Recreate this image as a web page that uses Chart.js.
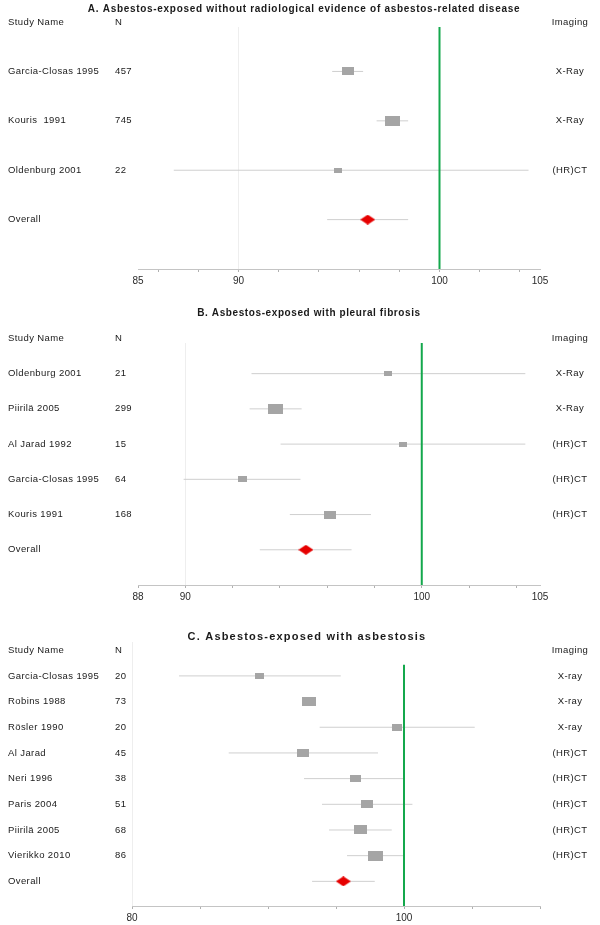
<!DOCTYPE html>
<html>
<head>
<meta charset="utf-8">
<script src="https://cdn.jsdelivr.net/npm/chart.js@4.4.1/dist/chart.umd.min.js"></script>
<style>
body { margin:0; background:#fff; width:600px; height:925px; position:relative; overflow:hidden; }
canvas { position:absolute; left:0; }
</style>
</head>
<body>
<canvas id="pA" width="600" height="300" style="top:0px"></canvas>
<canvas id="pB" width="600" height="320" style="top:300px"></canvas>
<canvas id="pC" width="600" height="298" style="top:629px"></canvas>
<script>
// ---- panel A ----
const studiesA = ['Garcia-Closas 1995', 'Kouris  1991', 'Oldenburg 2001'];
const nA = [457, 745, 22];
const imagingA = ['X-Ray', 'X-Ray', '(HR)CT'];
const meanA = [95.44, 97.65, 94.94];
const lowA = [94.66, 96.87, 86.78];
const highA = [96.20, 98.44, 104.43];
const weightA = [80, 100, 53];
const overallA = [96.43, 94.41, 98.44];   // estimate, low, high
const tickLabelsA = [85, 90, 100, 105];

// ---- panel B ----
const studiesB = ['Oldenburg 2001', 'Piirilä 2005', 'Al Jarad 1992', 'Garcia-Closas 1995', 'Kouris 1991'];
const nB = [21, 299, 15, 64, 168];
const imagingB = ['X-Ray', 'X-Ray', '(HR)CT', '(HR)CT', '(HR)CT'];
const meanB = [98.58, 93.83, 99.21, 92.40, 96.13];
const lowB = [92.80, 92.72, 94.03, 89.93, 94.42];
const highB = [104.38, 94.92, 104.38, 94.87, 97.85];
const weightB = [53, 100, 53, 60, 80];
const overallB = [95.10, 93.15, 97.03];
const tickLabelsB = [88, 90, 100, 105];

// ---- panel C ----
const studiesC = ['Garcia-Closas 1995', 'Robins 1988', 'Rösler 1990', 'Al Jarad', 'Neri 1996', 'Paris 2004', 'Piirilä 2005', 'Vierikko 2010'];
const nC = [20, 73, 20, 45, 38, 51, 68, 86];
const imagingC = ['X-ray', 'X-ray', 'X-ray', '(HR)CT', '(HR)CT', '(HR)CT', '(HR)CT', '(HR)CT'];
const meanC = [89.39, 92.99, 99.49, 92.57, 96.40, 97.28, 96.79, 97.90];
const lowC = [83.46, 92.50, 93.80, 87.11, 92.65, 93.97, 94.49, 95.81];
const highC = [95.35, 93.50, 105.20, 98.09, 100.05, 100.62, 99.10, 99.99];
const weightC = [60, 93, 67, 80, 73, 80, 87, 100];
const overallC = [95.54, 93.24, 97.85];
const tickLabelsC = [80, 100];

const NULL_VALUE = 100;

Chart.defaults.font.family = '"Liberation Sans", Arial, sans-serif';

function boxImg(w, h, color) {
    const c = document.createElement('canvas');
    c.width = w; c.height = h;
    const g = c.getContext('2d');
    g.fillStyle = color;
    g.fillRect(0, 0, w, h);
    return c;
}

function diamondImg(w, h, color) {
    const c = document.createElement('canvas');
    c.width = w; c.height = h;
    const g = c.getContext('2d');
    g.fillStyle = color;
    g.beginPath();
    g.moveTo(w / 2, 0); g.lineTo(w, h / 2); g.lineTo(w / 2, h); g.lineTo(0, h / 2);
    g.closePath();
    g.fill();
    return c;
}

// title + the three text columns, put on the y scale rows
const forestText = {
    id: 'forestText',
    afterDraw(chart, args, o) {
        const ctx = chart.ctx, ys = chart.scales.y;
        ctx.save();
        ctx.fillStyle = '#1a1a1a';
        ctx.textBaseline = 'middle';
        ctx.font = o.titleFont;
        ctx.letterSpacing = o.titleSpacing;
        ctx.textAlign = 'center';
        ctx.fillText(o.title, o.titleX, o.titleY);
        ctx.font = '9.5px "Liberation Sans"';
        ctx.letterSpacing = '0.4px';
        const row = (cells, r) => {
            const py = ys.getPixelForValue(r);
            ctx.textAlign = 'left';
            ctx.fillText(cells[0], 8, py);
            ctx.fillText(cells[1], 115, py);
            ctx.textAlign = 'center';
            ctx.fillText(cells[2], 570, py);
        };
        row(['Study Name', 'N', 'Imaging'], -1);
        o.studies.forEach((s, i) => row([s, String(o.n[i]), o.imaging[i]], i));
        row(['Overall', '', ''], o.studies.length);
        ctx.letterSpacing = '0px';
        ctx.restore();
    }
};

function makePanel(id, p) {
    const k = p.studies.length;
    const datasets = [];

    p.mean.forEach((m, i) => {
        datasets.push({ type: 'line', data: [{x: p.low[i], y: i}, {x: p.high[i], y: i}],
            borderColor: '#cfcfcf', borderWidth: 1, pointRadius: 0, order: 3 });
    });
    datasets.push({ type: 'line', data: [{x: p.overall[1], y: k}, {x: p.overall[2], y: k}],
        borderColor: '#cfcfcf', borderWidth: 1, pointRadius: 0, order: 3 });

    datasets.push({ type: 'line', data: [{x: NULL_VALUE, y: p.refTop}, {x: NULL_VALUE, y: p.yMax}],
        borderColor: '#14a84c', borderWidth: 2, pointRadius: 0, order: 2 });

    datasets.push({ type: 'scatter', data: p.mean.map((m, i) => ({x: m, y: i})),
        pointStyle: p.weight.map(w => {
            const bw = Math.round(15 * w / 100);
            return boxImg(bw, Math.max(4, Math.round(bw * 0.66)), '#a5a5a5');
        }),
        pointRadius: 5, order: 1 });

    datasets.push({ type: 'scatter', data: [{x: p.overall[0], y: k}],
        pointStyle: diamondImg(15, 10, '#e60000'), pointRadius: 5, order: 0 });

    const onStep = v => Math.abs((v - p.tickStart) / p.step - Math.round((v - p.tickStart) / p.step)) < 1e-6;

    return new Chart(document.getElementById(id), {
        type: 'scatter',
        data: { datasets },
        plugins: [forestText],
        options: {
            responsive: false,
            animation: false,
            devicePixelRatio: 1,
            layout: { padding: p.pad },
            plugins: {
                legend: { display: false },
                tooltip: { enabled: false },
                forestText: { title: p.title, titleX: p.titleX, titleY: p.titleY,
                    titleFont: p.titleFont, titleSpacing: p.titleSpacing,
                    studies: p.studies, n: p.n, imaging: p.imaging }
            },
            scales: {
                x: {
                    type: 'linear', min: p.xMin, max: p.xMax,
                    afterBuildTicks: s => {
                        const vals = [];
                        for (let v = p.tickStart; v <= p.xMax; v += p.step) vals.push(v);
                        p.tickLabels.forEach(v => { if (!vals.includes(v)) vals.push(v); });
                        vals.sort((a, b) => a - b);
                        s.ticks = vals.map(v => ({value: v}));
                    },
                    ticks: {
                        autoSkip: false, maxRotation: 0, padding: 3, color: '#2a2a2a',
                        font: { size: 10 },
                        callback: v => p.tickLabels.includes(v) ? String(v) : ''
                    },
                    grid: {
                        drawOnChartArea: true, tickLength: 3,
                        color: c => (c.tick && c.tick.value === p.gridAt) ? '#eeeeee' : 'rgba(0,0,0,0)',
                        tickColor: c => (c.tick && onStep(c.tick.value)) ? '#b0b0b0' : 'rgba(0,0,0,0)'
                    },
                    border: { display: true, color: '#c4c4c4', width: 1 }
                },
                y: { type: 'linear', display: false, reverse: true, min: p.yMin, max: p.yMax }
            }
        }
    });
}

makePanel('pA', {
    title: 'A. Asbestos-exposed without radiological evidence of asbestos-related disease',
    titleX: 304, titleY: 9, titleFont: 'bold 10px "Liberation Sans"', titleSpacing: '0.7px',
    studies: studiesA, n: nA, imaging: imagingA, mean: meanA, low: lowA, high: highA,
    weight: weightA, overall: overallA, tickLabels: tickLabelsA,
    xMin: 85, xMax: 105, tickStart: 86, step: 2, gridAt: 90,
    yMin: -0.9, yMax: 4, refTop: -0.9,
    pad: { left: 138, right: 60, top: 27, bottom: 10 }
});

makePanel('pB', {
    title: 'B. Asbestos-exposed with pleural fibrosis',
    titleX: 309, titleY: 13, titleFont: 'bold 10px "Liberation Sans"', titleSpacing: '0.6px',
    studies: studiesB, n: nB, imaging: imagingB, mean: meanB, low: lowB, high: highB,
    weight: weightB, overall: overallB, tickLabels: tickLabelsB,
    xMin: 88, xMax: 105, tickStart: 88, step: 2, gridAt: 90,
    yMin: -0.87, yMax: 6, refTop: -0.87,
    pad: { left: 138, right: 60, top: 43, bottom: 14 }
});

makePanel('pC', {
    title: 'C. Asbestos-exposed with asbestosis',
    titleX: 307, titleY: 8, titleFont: 'bold 11px "Liberation Sans"', titleSpacing: '1.2px',
    studies: studiesC, n: nC, imaging: imagingC, mean: meanC, low: lowC, high: highC,
    weight: weightC, overall: overallC, tickLabels: tickLabelsC,
    xMin: 80, xMax: 110, tickStart: 80, step: 5, gridAt: 80,
    yMin: -1.32, yMax: 8.96, refTop: -0.43,
    pad: { left: 132, right: 60, top: 13, bottom: 0 }
});
</script>
</body>
</html>
